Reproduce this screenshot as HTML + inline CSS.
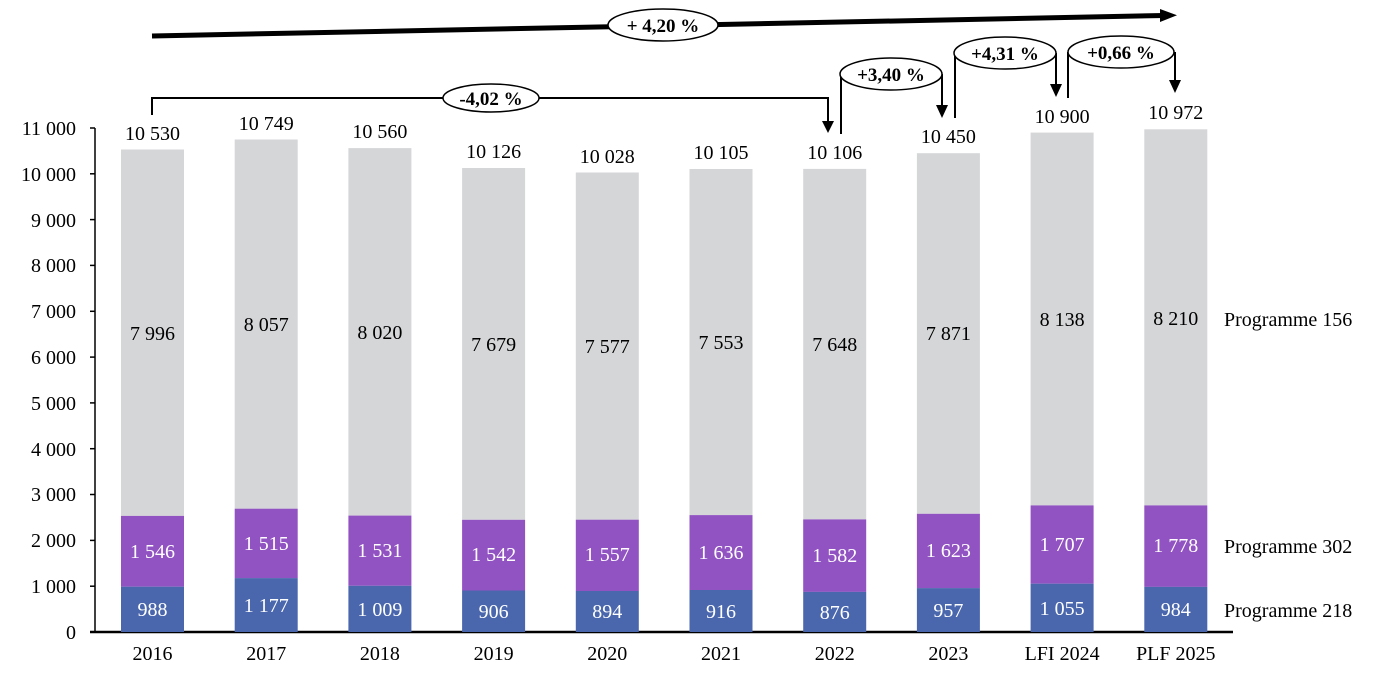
<!DOCTYPE html>
<html><head><meta charset="utf-8"><style>
html,body{margin:0;padding:0;background:#fff;}
svg{display:block;font-family:"Liberation Serif",serif;}
</style></head><body>
<svg width="1385" height="678" viewBox="0 0 1385 678" xmlns="http://www.w3.org/2000/svg">
<g font-size="20" text-anchor="end" fill="#000">
<text x="76" y="639">0</text>
<text x="76" y="593">1 000</text>
<text x="76" y="547">2 000</text>
<text x="76" y="501">3 000</text>
<text x="76" y="456">4 000</text>
<text x="76" y="410">5 000</text>
<text x="76" y="364">6 000</text>
<text x="76" y="318">7 000</text>
<text x="76" y="272">8 000</text>
<text x="76" y="227">9 000</text>
<text x="76" y="181">10 000</text>
<text x="76" y="135">11 000</text>
</g>
<g stroke="#000" stroke-width="1.5">
<line x1="95" y1="128" x2="95" y2="633"/>
<line x1="90" y1="632" x2="1233" y2="632" stroke-width="2.5"/>
<line x1="90" y1="586.2" x2="95" y2="586.2"/><line x1="90" y1="540.4" x2="95" y2="540.4"/>
<line x1="90" y1="494.5" x2="95" y2="494.5"/><line x1="90" y1="448.7" x2="95" y2="448.7"/>
<line x1="90" y1="402.9" x2="95" y2="402.9"/><line x1="90" y1="357.1" x2="95" y2="357.1"/>
<line x1="90" y1="311.3" x2="95" y2="311.3"/><line x1="90" y1="265.4" x2="95" y2="265.4"/>
<line x1="90" y1="219.6" x2="95" y2="219.6"/><line x1="90" y1="173.8" x2="95" y2="173.8"/>
<line x1="90" y1="128" x2="95" y2="128"/>
</g>
<g>
<rect x="121" y="149.5" width="63" height="366.4" fill="#d5d6d8"/><rect x="121" y="515.9" width="63" height="70.8" fill="#9152c2"/><rect x="121" y="586.7" width="63" height="45.3" fill="#4a67ad"/>
<rect x="234.7" y="139.5" width="63" height="369.2" fill="#d5d6d8"/><rect x="234.7" y="508.7" width="63" height="69.4" fill="#9152c2"/><rect x="234.7" y="578.1" width="63" height="53.9" fill="#4a67ad"/>
<rect x="348.4" y="148.1" width="63" height="367.5" fill="#d5d6d8"/><rect x="348.4" y="515.6" width="63" height="70.2" fill="#9152c2"/><rect x="348.4" y="585.8" width="63" height="46.2" fill="#4a67ad"/>
<rect x="462.1" y="168.0" width="63" height="351.8" fill="#d5d6d8"/><rect x="462.1" y="519.8" width="63" height="70.7" fill="#9152c2"/><rect x="462.1" y="590.5" width="63" height="41.5" fill="#4a67ad"/>
<rect x="575.8" y="172.5" width="63" height="347.2" fill="#d5d6d8"/><rect x="575.8" y="519.7" width="63" height="71.3" fill="#9152c2"/><rect x="575.8" y="591.0" width="63" height="41" fill="#4a67ad"/>
<rect x="689.5" y="169.0" width="63" height="346.1" fill="#d5d6d8"/><rect x="689.5" y="515.1" width="63" height="74.9" fill="#9152c2"/><rect x="689.5" y="590.0" width="63" height="42" fill="#4a67ad"/>
<rect x="803.2" y="168.9" width="63" height="350.5" fill="#d5d6d8"/><rect x="803.2" y="519.4" width="63" height="72.5" fill="#9152c2"/><rect x="803.2" y="591.9" width="63" height="40.1" fill="#4a67ad"/>
<rect x="916.9" y="153.2" width="63" height="360.6" fill="#d5d6d8"/><rect x="916.9" y="513.8" width="63" height="74.3" fill="#9152c2"/><rect x="916.9" y="588.1" width="63" height="43.9" fill="#4a67ad"/>
<rect x="1030.6" y="132.6" width="63" height="372.8" fill="#d5d6d8"/><rect x="1030.6" y="505.4" width="63" height="78.3" fill="#9152c2"/><rect x="1030.6" y="583.7" width="63" height="48.3" fill="#4a67ad"/>
<rect x="1144.3" y="129.3" width="63" height="376.1" fill="#d5d6d8"/><rect x="1144.3" y="505.4" width="63" height="81.5" fill="#9152c2"/><rect x="1144.3" y="586.9" width="63" height="45.1" fill="#4a67ad"/>
</g>
<g font-size="20" text-anchor="middle">
<g fill="#000">
<text x="152.5" y="140">10 530</text><text x="266.2" y="130">10 749</text><text x="379.9" y="138">10 560</text>
<text x="493.6" y="158">10 126</text><text x="607.3" y="163">10 028</text><text x="721" y="159">10 105</text>
<text x="834.7" y="159">10 106</text><text x="948.4" y="143">10 450</text><text x="1062.1" y="123">10 900</text><text x="1175.8" y="119">10 972</text>
<text x="152.5" y="340">7 996</text><text x="266.2" y="331">8 057</text><text x="379.9" y="339">8 020</text>
<text x="493.6" y="351">7 679</text><text x="607.3" y="353">7 577</text><text x="721" y="349">7 553</text>
<text x="834.7" y="351">7 648</text><text x="948.4" y="340">7 871</text><text x="1062.1" y="326">8 138</text><text x="1175.8" y="325">8 210</text>
<text x="152.5" y="660">2016</text><text x="266.2" y="660">2017</text><text x="379.9" y="660">2018</text>
<text x="493.6" y="660">2019</text><text x="607.3" y="660">2020</text><text x="721" y="660">2021</text>
<text x="834.7" y="660">2022</text><text x="948.4" y="660">2023</text><text x="1062.1" y="660">LFI 2024</text><text x="1175.8" y="660">PLF 2025</text>
</g>
<g fill="#fff">
<text x="152.5" y="558">1 546</text><text x="266.2" y="550">1 515</text><text x="379.9" y="557">1 531</text>
<text x="493.6" y="561">1 542</text><text x="607.3" y="561">1 557</text><text x="721" y="559">1 636</text>
<text x="834.7" y="562">1 582</text><text x="948.4" y="557">1 623</text><text x="1062.1" y="551">1 707</text><text x="1175.8" y="552">1 778</text>
<text x="152.5" y="616">988</text><text x="266.2" y="612">1 177</text><text x="379.9" y="616">1 009</text>
<text x="493.6" y="618">906</text><text x="607.3" y="618">894</text><text x="721" y="618">916</text>
<text x="834.7" y="619">876</text><text x="948.4" y="617">957</text><text x="1062.1" y="615">1 055</text><text x="1175.8" y="616">984</text>
</g>
</g>
<g font-size="20" fill="#000">
<text x="1224" y="326">Programme 156</text>
<text x="1224" y="553">Programme 302</text>
<text x="1224" y="617">Programme 218</text>
</g>
<line x1="152" y1="36" x2="1164" y2="15.5" stroke="#000" stroke-width="5"/>
<path d="M1160,9 L1177,15.3 L1160,22 z" fill="#000"/>
<ellipse cx="663" cy="25" rx="55" ry="16" fill="#fff" stroke="#000" stroke-width="1.5"/>
<text x="663" y="32" font-size="19" font-weight="bold" text-anchor="middle">+ 4,20 %</text>
<path d="M152,115 V98 H828 V122" fill="none" stroke="#000" stroke-width="2"/>
<path d="M822,121 L828,133 L834,121 z" fill="#000"/>
<ellipse cx="491" cy="98" rx="48" ry="14" fill="#fff" stroke="#000" stroke-width="1.5"/>
<text x="491" y="105" font-size="19" font-weight="bold" text-anchor="middle">-4,02 %</text>
<path d="M841,134 V74 M942,74 V106" fill="none" stroke="#000" stroke-width="2"/>
<path d="M936,105 L942,118 L948,105 z" fill="#000"/>
<ellipse cx="891" cy="74" rx="51" ry="16" fill="#fff" stroke="#000" stroke-width="1.5"/>
<text x="891" y="81" font-size="19" font-weight="bold" text-anchor="middle">+3,40 %</text>
<path d="M955,118 V53 M1056,53 V85" fill="none" stroke="#000" stroke-width="2"/>
<path d="M1050,84 L1056,97 L1062,84 z" fill="#000"/>
<ellipse cx="1005" cy="53" rx="51" ry="16" fill="#fff" stroke="#000" stroke-width="1.5"/>
<text x="1005" y="60" font-size="19" font-weight="bold" text-anchor="middle">+4,31 %</text>
<path d="M1068,98 V52 M1175,52 V81" fill="none" stroke="#000" stroke-width="2"/>
<path d="M1169,80 L1175,93 L1181,80 z" fill="#000"/>
<ellipse cx="1121" cy="52" rx="53" ry="16" fill="#fff" stroke="#000" stroke-width="1.5"/>
<text x="1121" y="59" font-size="19" font-weight="bold" text-anchor="middle">+0,66 %</text>
</svg>
</body></html>
